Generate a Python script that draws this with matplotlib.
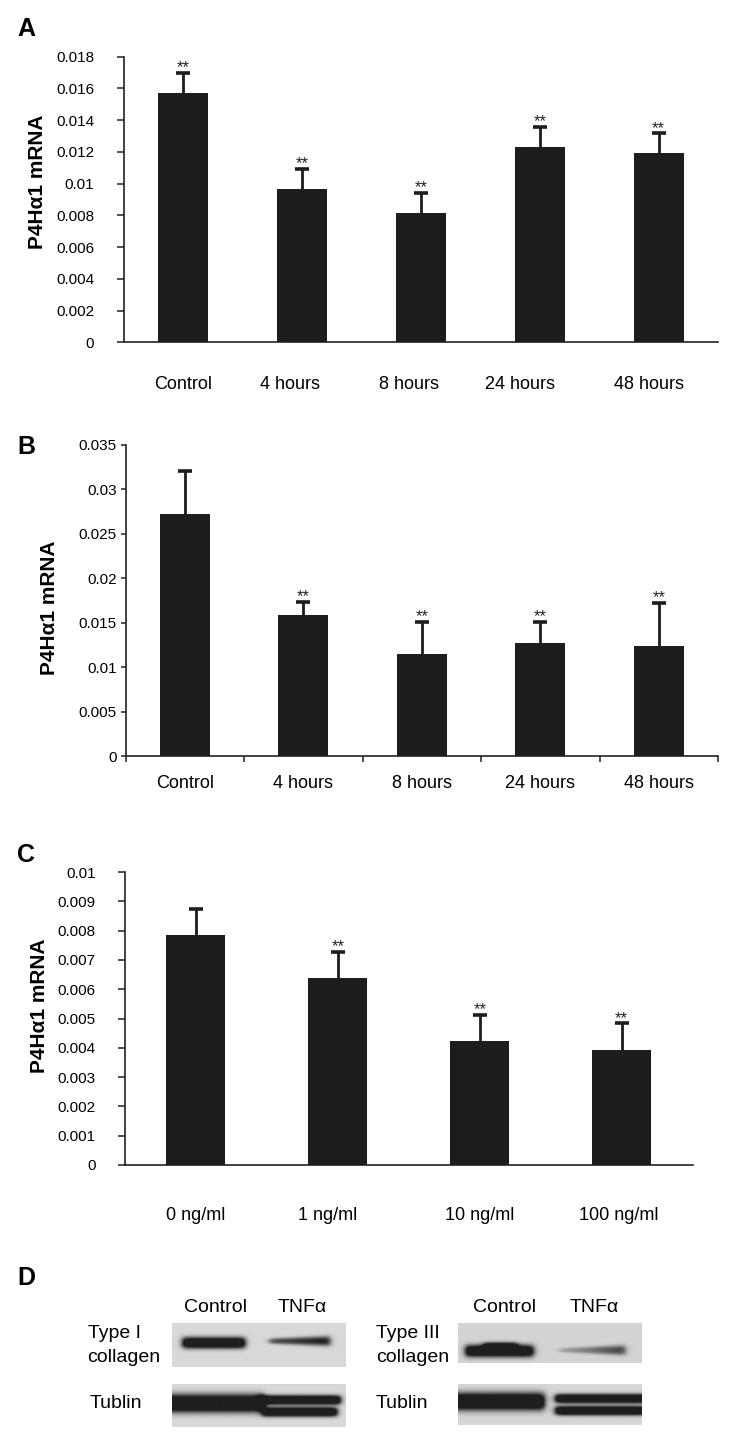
import numpy as np
import matplotlib
matplotlib.use('Agg')
import matplotlib.pyplot as plt

plt.rcParams['font.family'] = ['Liberation Sans', 'DejaVu Sans']

# ---------------- data ----------------
a_labels = ['Control', '4 hours', '8 hours', '24 hours', '48 hours']
a_means = [0.0157, 0.00966, 0.00815, 0.01233, 0.01196]
a_err = [0.0013, 0.00126, 0.00126, 0.00127, 0.0012]
a_sig = [True, True, True, True, True]
a_yticks = [0, 0.002, 0.004, 0.006, 0.008, 0.01, 0.012, 0.014, 0.016, 0.018]

b_labels = ['Control', '4 hours', '8 hours', '24 hours', '48 hours']
b_means = [0.02723, 0.01584, 0.01152, 0.01268, 0.01238]
b_err = [0.00488, 0.00149, 0.0036, 0.00244, 0.00487]
b_sig = [False, True, True, True, True]
b_yticks = [0, 0.005, 0.01, 0.015, 0.02, 0.025, 0.03, 0.035]

c_labels = ['0 ng/ml', '1 ng/ml', '10 ng/ml', '100 ng/ml']
c_means = [0.00784, 0.00637, 0.00424, 0.00394]
c_err = [0.0009, 0.0009, 0.00089, 0.00089]
c_sig = [False, True, True, True]
c_yticks = [0, 0.001, 0.002, 0.003, 0.004, 0.005, 0.006, 0.007, 0.008, 0.009, 0.01]

blot_lanes = ['Control', 'TNF\u03b1']
col1_band = [1.0, 0.8]       # Type I collagen band strength (Control, TNFa)
col3_band = [1.0, 0.6]       # Type III collagen band strength
tub_band_left = [1.0, 1.0]   # Tublin (Type I blot)
tub_band_right = [1.0, 1.0]  # Tublin (Type III blot)

ylabel_text = 'P4H\u03b11 mRNA'
BAR = '#1e1c1d'

W, H = 729, 1439
fig = plt.figure(figsize=(W / 100, H / 100), dpi=100)


def fx(px):
    return px / W


def fy(py):
    return 1 - py / H


def add_ax(l, t, r, b):
    return fig.add_axes([fx(l), fy(b), fx(r) - fx(l), (b - t) / H])


def bar_panel(ax, labels, means, err, sig, yticks, width, tickpad, ticklen,
              xpad, label_shift=None, xticks_between=False):
    x = np.arange(len(labels))
    ax.bar(x, means, width=width, color=BAR, zorder=3)
    eb = ax.errorbar(x, means, yerr=[np.zeros(len(err)), err], fmt='none',
                     ecolor=BAR, elinewidth=2.0, capsize=4.8, capthick=2.6, zorder=2)
    caps = eb[1]
    if len(caps) == 2:
        caps[0].set_visible(False)   # hide the (zero-length) lower cap
    tops = np.array(means) + np.array(err)
    for xi, t, s in zip(x, tops, sig):
        if s:
            ax.annotate('**', xy=(xi, t), xytext=(0, 0.5), textcoords='offset points',
                        ha='center', va='baseline', fontsize=12, color='#222222')
    ax.set_xlim(-0.5, len(labels) - 0.5)
    ax.set_ylim(0, yticks[-1])
    ax.set_yticks(yticks)
    ax.set_yticklabels([f'{v:g}' for v in yticks], fontsize=11)
    ax.tick_params(axis='y', length=ticklen, width=1.1, pad=tickpad, color='#222222')
    shift = np.zeros(len(labels)) if label_shift is None else np.array(label_shift)
    ax.set_xticks(x + shift)
    ax.set_xticklabels(labels, fontsize=13)
    ax.tick_params(axis='x', length=0, pad=xpad)
    if xticks_between:
        ax.set_xticks(np.arange(-0.5, len(labels), 1.0), minor=True)
        ax.tick_params(axis='x', which='minor', length=4, width=1.1, direction='out',
                       color='#222222')
    for s in ['top', 'right']:
        ax.spines[s].set_visible(False)
    for s in ['left', 'bottom']:
        ax.spines[s].set_linewidth(1.2)
        ax.spines[s].set_color('#222222')


# ---------------- Panel A ----------------
axA = add_ax(124, 56.7, 718, 342.3)
bar_panel(axA, a_labels, a_means, a_err, a_sig, a_yticks, width=0.42,
          tickpad=16.5, ticklen=5, xpad=24,
          label_shift=[0, -0.1, -0.1, -0.17, -0.08])
axA.text(-0.1456, 0.563, ylabel_text, transform=axA.transAxes, rotation=90,
         ha='center', va='center', fontsize=15, fontweight='bold')

# ---------------- Panel B ----------------
axB = add_ax(125.6, 445, 718, 756)
bar_panel(axB, b_labels, b_means, b_err, b_sig, b_yticks, width=0.42,
          tickpad=3, ticklen=3.5, xpad=14, xticks_between=True)
axB.text(-0.1293, 0.476, ylabel_text, transform=axB.transAxes, rotation=90,
         ha='center', va='center', fontsize=15, fontweight='bold')

# ---------------- Panel C ----------------
axC = add_ax(125, 872, 692.6, 1165)
bar_panel(axC, c_labels, c_means, c_err, c_sig, c_yticks, width=0.416,
          tickpad=16, ticklen=5, xpad=30,
          label_shift=[0, -0.07, 0, -0.02])
axC.text(-0.1498, 0.543, ylabel_text, transform=axC.transAxes, rotation=90,
         ha='center', va='center', fontsize=15, fontweight='bold')

# ---------------- panel letters ----------------
for letter, py in zip(['A', 'B', 'C', 'D'], [29, 447, 855, 1278]):
    fig.text(fx(26), fy(py), letter, ha='center', va='center', fontsize=18,
             fontweight='bold')


# ---------------- Panel D (western blots) ----------------
def blot_image(nx, ny, bands, bg):
    xx = np.linspace(0, 1, nx)[None, :]
    yy = np.linspace(0, 1, ny)[:, None]
    dark = np.zeros((ny, nx))
    for x0, x1, yc, hh, amp0, amp1, taper in bands:
        px = 0.5 * (np.tanh((xx - x0) / 0.02) - np.tanh((xx - x1) / 0.02))
        u = np.clip((xx - x0) / (x1 - x0), 0, 1)
        amp = amp0 + (amp1 - amp0) * u
        h = hh * (1 + taper * (u - 0.5))
        py = np.exp(-np.abs((yy - yc) / h) ** 2.5)
        dark += amp * px * py
    dark = np.clip(dark, 0, 1)
    img = bg - (bg - 0.12) * dark
    return img


def show_blot(l, t, r, b, img):
    ax = add_ax(l, t, r, b)
    ax.imshow(img, cmap='gray', vmin=0, vmax=1, aspect='auto',
              extent=[0, 1, 1, 0], interpolation='bilinear')
    ax.set_axis_off()
    return ax


img1 = blot_image(350, 88, [
    (0.06, 0.42, 0.45, 0.13, 1.5 * col1_band[0], 1.5 * col1_band[0], 0.0),
    (0.56, 0.91, 0.41, 0.09, 0.9 * col1_band[1], 1.3 * col1_band[1], 0.6),
], bg=0.85)
show_blot(172, 1323, 346, 1367, img1)

img3 = blot_image(366, 80, [
    (0.04, 0.41, 0.71, 0.15, 1.5 * col3_band[0], 1.5 * col3_band[0], 0.0),
    (0.14, 0.32, 0.60, 0.10, 1.2 * col3_band[0], 1.2 * col3_band[0], 0.0),
    (0.55, 0.91, 0.69, 0.09, 0.4 * col3_band[1], 1.4 * col3_band[1], 0.8),
], bg=0.83)
show_blot(458, 1323, 641, 1363, img3)

imgt1 = blot_image(350, 86, [
    (-0.05, 0.53, 0.45, 0.21, 1.6 * tub_band_left[0], 1.6 * tub_band_left[0], 0.0),
    (0.50, 0.97, 0.37, 0.11, 1.6 * tub_band_left[1], 1.6 * tub_band_left[1], 0.0),
    (0.52, 0.95, 0.65, 0.11, 1.6 * tub_band_left[1], 1.6 * tub_band_left[1], 0.0),
], bg=0.85)
show_blot(172, 1384, 346, 1427, imgt1)

imgt2 = blot_image(366, 82, [
    (-0.05, 0.47, 0.44, 0.21, 1.6 * tub_band_right[0], 1.6 * tub_band_right[0], 0.0),
    (0.53, 1.05, 0.37, 0.11, 1.6 * tub_band_right[1], 1.6 * tub_band_right[1], 0.0),
    (0.53, 1.02, 0.66, 0.11, 1.6 * tub_band_right[1], 1.6 * tub_band_right[1], 0.0),
], bg=0.84)
show_blot(458, 1384, 641, 1425, imgt2)

# lane headers
for cx, lab in zip([215.6, 302], blot_lanes):
    fig.text(fx(cx), fy(1307), lab, ha='center', va='center', fontsize=14)
for cx, lab in zip([504, 594], blot_lanes):
    fig.text(fx(cx), fy(1307), lab, ha='center', va='center', fontsize=14)

# row labels
fig.text(fx(87.6), fy(1334), 'Type I', ha='left', va='center', fontsize=14)
fig.text(fx(87.6), fy(1358), 'collagen', ha='left', va='center', fontsize=14)
fig.text(fx(90), fy(1403), 'Tublin', ha='left', va='center', fontsize=14)
fig.text(fx(376), fy(1334), 'Type III', ha='left', va='center', fontsize=14)
fig.text(fx(376), fy(1358), 'collagen', ha='left', va='center', fontsize=14)
fig.text(fx(376), fy(1403), 'Tublin', ha='left', va='center', fontsize=14)

fig.savefig('out.png', dpi=100, facecolor='white')
